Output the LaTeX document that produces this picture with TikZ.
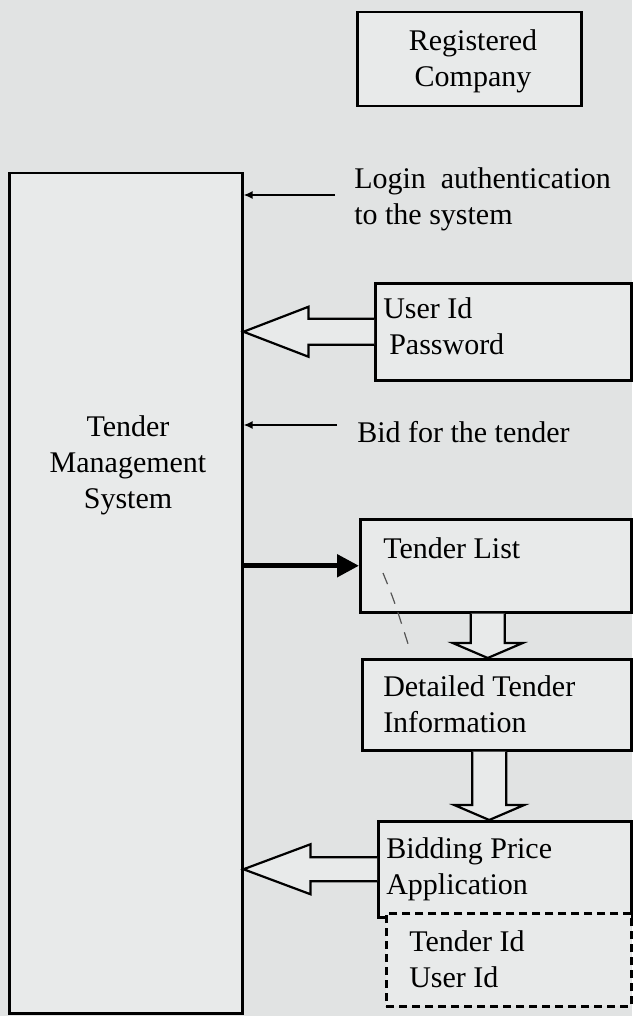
\documentclass[tikz,border=0pt]{standalone}
\usepackage{fontspec}
\setmainfont{Liberation Serif}
\usetikzlibrary{arrows.meta, calc}
\definecolor{cpage}{HTML}{E1E3E3}
\definecolor{cpanel}{HTML}{E8EAEA}
\definecolor{cgrey}{HTML}{555555}
\tikzset{
  every picture/.style={font=\fontsize{30}{36}\selectfont, line width=2.5pt},
  panel/.style={draw, fill=cpanel, anchor=north west, inner sep=0pt, align=center},
  dashpanel/.style={panel, dash pattern=on 8pt off 5pt},
  txt/.style={anchor=north west, inner sep=0pt, align=left},
  thinarrow/.style={-{Latex[length=9pt, width=8pt]}, line width=1.8pt},
  boldarrow/.style={-{Triangle[length=22pt, width=22pt]}, line width=5pt},
  hollow/.style={draw, fill=cpanel, line width=2.2pt},
}

\begin{document}
\begin{tikzpicture}[x=1pt, y=-1pt]
  \fill[cpage] (0,0) rectangle (632,1016);
  \useasboundingbox (0,0) rectangle (632,1016);
  % boxes
  \node[panel, minimum width=224, minimum height=94] (regco) at (356,11) {};
  \node[align=center, inner sep=0pt] (regcotext) at (473,61) {Registered\\Company};
  \node[panel, minimum width=233, minimum height=840] (tms) at (8,172) {};
  \node[align=center, inner sep=0pt] (tmstext) at (128,465) {Tender\\Management\\System};
  \node[panel, minimum width=256, minimum height=97] (cred) at (374,282) {};
  \node[panel, minimum width=271, minimum height=93] (tlist) at (359,518) {};
  \node[panel, minimum width=269, minimum height=91] (detail) at (361,658) {};
  \node[panel, minimum width=253, minimum height=96] (bidprice) at (377,820) {};
  \node[dashpanel, minimum width=245, minimum height=93] (bidid) at (385,912) {};
  % texts
  \node[txt] (logintext) at (353,166) {Login\ \ authentication\\to the system};
  \node[txt] (bidtext) at (356,420) {Bid for the tender};
  \node[txt] (credtext) at (382,296) {User Id\\\hspace*{6pt}Password};
  \node[txt] (tlisttext) at (382,536) {Tender List};
  \node[txt] (detailtext) at (382,674.5) {Detailed Tender\\Information};
  \node[txt] (bidpricetext) at (385,836) {Bidding Price\\Application};
  \node[txt] (bididtext) at (408,929.5) {Tender Id\\User Id};
  % arrows
  \coordinate (loginend) at (335,195);
  \coordinate (bidend) at (337,425);
  \draw[thinarrow] (loginend) -- (loginend -| tms.east);
  \draw[thinarrow] (bidend) -- (bidend -| tms.east);
  \draw[boldarrow] (tms.east |- tlist.west) -- (tlist.west);
  \draw[hollow] let \p1=(cred.west), \p2=(tms.east) in
    (\x1,\y1+13pt) -- (\x2+65pt,\y1+13pt) -- (\x2+65pt,\y1+25pt) -- (\x2,\y1)
    -- (\x2+65pt,\y1-25pt) -- (\x2+65pt,\y1-13pt) -- (\x1,\y1-13pt);
  \draw[hollow] let \p1=(bidprice.west), \p2=(tms.east) in
    (\x1,\y1+12pt) -- (\x2+67pt,\y1+12pt) -- (\x2+67pt,\y1+25pt) -- (\x2,\y1)
    -- (\x2+67pt,\y1-25pt) -- (\x2+67pt,\y1-12pt) -- (\x1,\y1-12pt);
  \draw[hollow] let \p1=([xshift=-8pt]tlist.south), \p2=(detail.north) in
    (\x1-17pt,\y1) -- (\x1-17pt,\y2+15pt) -- (\x1-35pt,\y2+15pt) -- (\x1,\y2)
    -- (\x1+35pt,\y2+15pt) -- (\x1+17pt,\y2+15pt) -- (\x1+17pt,\y1);
  \draw[hollow] let \p1=([xshift=-7.5pt]detail.south), \p2=(bidprice.north) in
    (\x1-17pt,\y1) -- (\x1-17pt,\y2+15pt) -- (\x1-35pt,\y2+15pt) -- (\x1,\y2)
    -- (\x1+35pt,\y2+15pt) -- (\x1+17pt,\y2+15pt) -- (\x1+17pt,\y1);
  \draw[cgrey, line width=1.2pt, dash pattern=on 12pt off 9pt] (383,573) .. controls (394,600) .. (410,650);
\end{tikzpicture}
\end{document}
